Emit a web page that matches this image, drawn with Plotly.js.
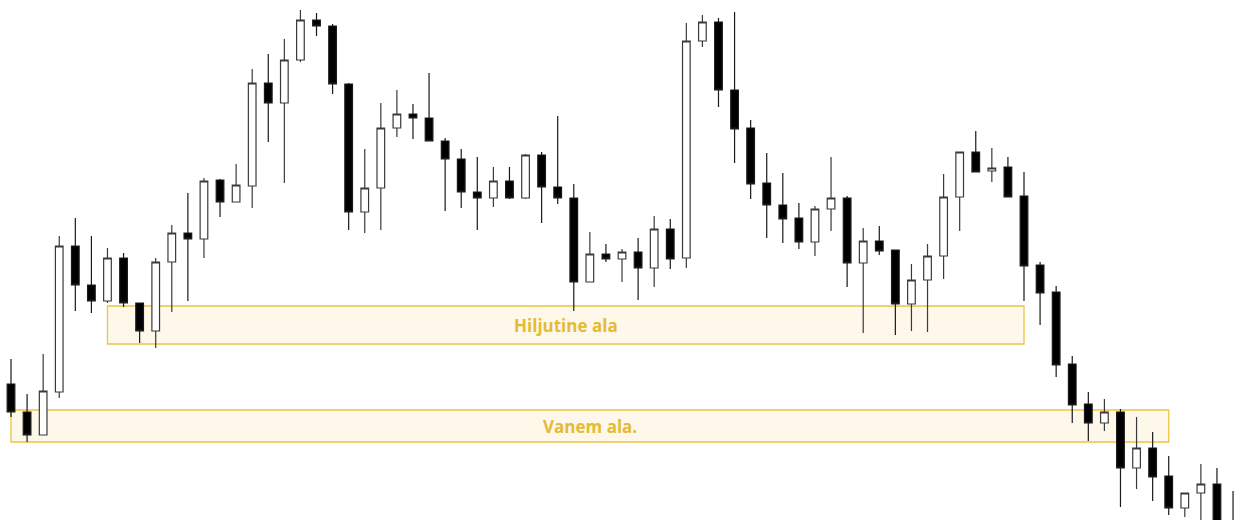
<!DOCTYPE html>
<html>
<head>
<meta charset="utf-8">
<script src="https://cdn.plot.ly/plotly-3.0.1.min.js"></script>
<style>
  html, body { margin: 0; padding: 0; background: #fff; }
  #plot { width: 1234px; height: 520px; }
</style>
</head>
<body>
<div id="plot"></div>
<script>
// küünlad (hind suvalistes ühikutes)
const open = [113.6, 110.8, 108.5, 112.8, 127.4, 123.5, 121.9, 126.2, 121.7, 118.9,
  125.8, 128.7, 128.1, 134.0, 131.8, 133.4, 143.7, 141.7, 146.0, 150.0,
  149.4, 143.6, 130.8, 133.2, 139.2, 140.6, 140.2, 137.9, 136.1, 132.8,
  132.2, 133.9, 132.2, 136.5, 133.3, 132.2, 123.8, 126.6, 126.1, 126.8,
  125.2, 129.1, 126.2, 147.9, 149.8, 143.0, 139.2, 133.7, 131.5, 130.2,
  127.8, 131.1, 132.2, 125.7, 127.9, 127.0, 121.6, 124.0, 126.4, 132.3,
  136.8, 134.9, 135.3, 132.4, 125.5, 122.8, 115.6, 111.6, 109.7, 110.8,
  105.2, 107.2, 104.4, 101.2, 102.7, 103.6, 99.5];
const high = [116.1, 112.6, 116.6, 128.4, 130.2, 128.4, 127.2, 126.7, 121.7, 126.2,
  129.5, 132.7, 134.2, 134.1, 135.6, 145.1, 146.6, 148.1, 151.0, 150.7,
  149.6, 143.7, 137.1, 141.7, 143.0, 141.6, 144.7, 138.2, 137.1, 136.3,
  135.3, 135.3, 136.6, 136.8, 140.4, 133.6, 128.8, 127.6, 127.1, 128.2,
  130.4, 130.1, 149.7, 150.5, 150.2, 150.8, 140.0, 136.7, 134.7, 131.7,
  131.4, 136.3, 132.4, 129.2, 129.4, 127.0, 125.6, 127.6, 134.6, 136.8,
  138.9, 137.2, 136.3, 134.8, 125.8, 123.4, 116.4, 112.8, 112.1, 111.1,
  110.3, 108.8, 106.4, 102.7, 105.6, 105.2, 102.9];
const low = [110.3, 107.8, 108.5, 112.2, 120.9, 120.7, 121.7, 121.3, 117.7, 117.2,
  120.8, 121.9, 126.2, 130.3, 131.8, 131.2, 137.8, 133.7, 145.8, 148.4,
  142.6, 129.0, 128.7, 129.0, 138.3, 138.1, 137.9, 130.9, 131.2, 129.0,
  131.3, 132.1, 132.1, 129.7, 131.6, 120.9, 123.8, 125.8, 123.8, 122.0,
  123.3, 125.1, 125.2, 147.3, 141.3, 135.7, 132.1, 128.2, 127.7, 127.1,
  126.4, 128.9, 123.3, 118.7, 126.5, 118.5, 118.9, 118.8, 124.1, 128.9,
  134.8, 133.8, 132.3, 121.9, 119.5, 114.3, 109.7, 107.9, 108.9, 101.3,
  103.1, 101.9, 100.5, 100.3, 99.0, 98.0, 97.5];
const close = [110.8, 108.5, 112.9, 127.4, 123.5, 121.9, 126.2, 121.7, 118.9, 125.8,
  128.7, 128.1, 133.9, 131.8, 133.5, 143.7, 141.7, 146.0, 150.0, 149.4,
  143.6, 130.8, 133.2, 139.2, 140.6, 140.2, 137.9, 136.1, 132.8, 132.2,
  133.9, 132.2, 136.5, 133.3, 132.2, 123.8, 126.6, 126.1, 126.8, 125.2,
  129.1, 126.1, 147.9, 149.8, 143.0, 139.1, 133.6, 131.5, 130.1, 127.8,
  131.1, 132.2, 125.7, 127.9, 126.9, 121.6, 124.0, 126.4, 132.3, 136.8,
  134.8, 135.2, 132.3, 125.4, 122.7, 115.5, 111.5, 109.7, 110.8, 105.2,
  107.2, 104.3, 101.2, 102.7, 103.6, 99.2, 98.5];
const idx = open.map((_, i) => i);

// tsoonid: algus- ja lõpuküünal, ülemine ja alumine piir
const zoneNames = ['Hiljutine ala', 'Vanem ala.'];
const zoneStart = [6, 0];
const zoneEnd = [63, 72];
const zoneTop = [121.4, 111.0];
const zoneBottom = [117.6, 107.8];

const trace = {
  type: 'candlestick',
  x: idx,
  open: open,
  high: high,
  low: low,
  close: close,
  whiskerwidth: 0,
  increasing: { line: { color: '#3a3a3a', width: 1.2 }, fillcolor: '#ffffff' },
  decreasing: { line: { color: '#1a1a1a', width: 1.2 }, fillcolor: '#000000' },
  hoverinfo: 'skip'
};

const shapes = zoneNames.map((n, i) => ({
  type: 'rect',
  xref: 'x', yref: 'y',
  x0: zoneStart[i], x1: zoneEnd[i],
  y0: zoneBottom[i], y1: zoneTop[i],
  fillcolor: '#fdf8ea',
  line: { color: '#edc443', width: 1.3 },
  layer: 'below'
}));

const annotations = zoneNames.map((n, i) => ({
  xref: 'x', yref: 'y',
  x: (zoneStart[i] + zoneEnd[i]) / 2,
  y: (zoneTop[i] + zoneBottom[i]) / 2,
  text: '<b>' + n + '</b>',
  showarrow: false,
  font: { family: 'Open Sans, sans-serif', size: 17, color: '#e6ba35' }
}));

Plotly.newPlot('plot', [trace], {
  width: 1234,
  height: 520,
  margin: { l: 0, r: 0, t: 0, b: 0 },
  paper_bgcolor: '#ffffff',
  plot_bgcolor: '#ffffff',
  showlegend: false,
  boxgap: 0.32,
  xaxis: {
    range: [-0.684, 76.06],
    visible: false,
    rangeslider: { visible: false },
    fixedrange: true
  },
  yaxis: {
    range: [100, 152],
    visible: false,
    fixedrange: true
  },
  shapes: shapes,
  annotations: annotations
}, { displayModeBar: false, staticPlot: true });
</script>
</body>
</html>
